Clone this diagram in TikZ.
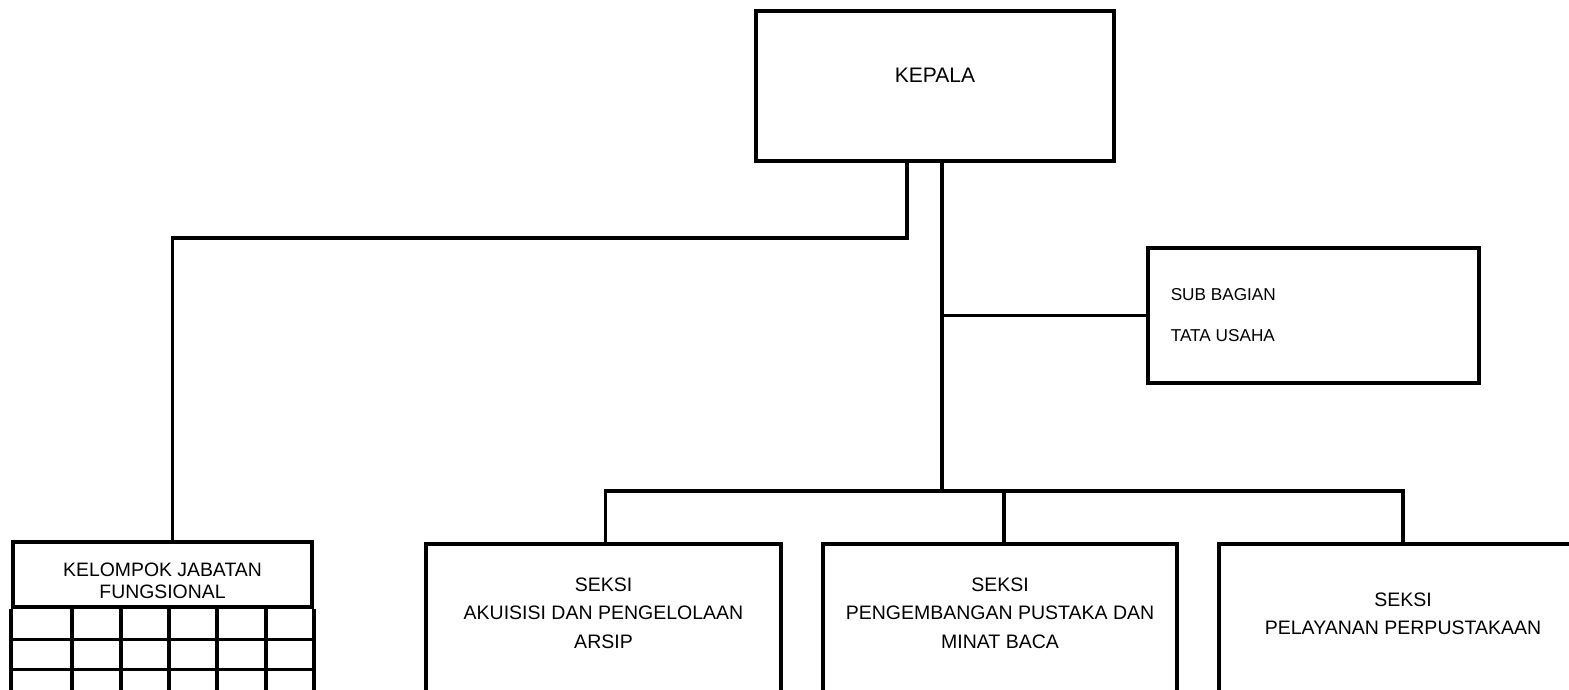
\documentclass[tikz,border=0pt]{standalone}
\usepackage{fontspec}
\setmainfont{Liberation Sans}
\usetikzlibrary{positioning}
\begin{document}
\begin{tikzpicture}[x=1pt, y=-1pt, line width=3.5pt,
    unit box/.style={draw, line width=4pt, inner sep=0pt},
    unit text/.style={inner sep=0pt, align=center, font=\fontsize{19.5}{28.5}\selectfont}]
    \clip (0,0) rectangle (1569,690);

    % top level
    \node[unit box, minimum width=358pt, minimum height=150pt, font=\fontsize{21}{25}\selectfont, text height=15pt, text depth=21pt] at (935,86) (kepala) {KEPALA};
    \node[unit box, minimum width=331pt, minimum height=135pt] at (1313.5,315.5) (tatausaha) {};
    \node[inner sep=0pt, align=left, font=\fontsize{17.2}{41}\selectfont, right=23pt of tatausaha.west] (tatausaha text) {SUB BAGIAN\\TATA USAHA};

    % seksi
    \node[unit box, anchor=north, minimum width=355pt, minimum height=200pt] at (603.5,542) (akuisisi) {};
    \node[unit box, anchor=north, minimum width=354pt, minimum height=200pt] at (1000,542) (pengembangan) {};
    \node[unit box, anchor=north, minimum width=368pt, minimum height=200pt] at (1403,542) (pelayanan) {};
    \node[unit text, below=34pt of akuisisi.north] (akuisisi text) {SEKSI\\AKUISISI DAN PENGELOLAAN\\ARSIP};
    \node[unit text, below=34pt of pengembangan.north] (pengembangan text) {SEKSI\\PENGEMBANGAN PUSTAKA DAN\\MINAT BACA};
    \node[unit text, below=49pt of pelayanan.north] (pelayanan text) {SEKSI\\PELAYANAN PERPUSTAKAAN};

    % jabatan fungsional
    \node[unit box, anchor=north, minimum width=299pt, minimum height=65pt] at (162.5,540) (fungsional) {};
    \node[inner sep=0pt, align=center, font=\fontsize{19.4}{22}\selectfont, below=21pt of fungsional.north] (fungsional text) {KELOMPOK JABATAN\\FUNGSIONAL};
    \draw[line width=4pt] (fungsional.south west) -- ++(0,100) (fungsional.south east) -- ++(0,100);
    \foreach \dx in {61,110,158,206,255}
        \draw[line width=4pt] ([xshift=\dx pt]fungsional.south west) -- ++(0,100);
    \foreach \dy in {30,60}
        \draw[line width=3pt] ([yshift=-\dy pt]fungsional.south west) -- ([yshift=-\dy pt]fungsional.south east);

    % lines
    \coordinate (bus) at (942,491);
    \draw ([xshift=7pt]kepala.south) -- (bus);
    \draw (tatausaha.west) -- (tatausaha.west -| bus);
    \draw ([xshift=-28pt]kepala.south) -- ++(0,75) -| ([xshift=10pt]fungsional.north);
    \draw ([xshift=2pt]akuisisi.north) -- ([xshift=2pt]akuisisi.north |- bus) -- (pelayanan.north |- bus) -- (pelayanan.north);
    \draw ([xshift=4pt]pengembangan.north) -- ([xshift=4pt]pengembangan.north |- bus);
\end{tikzpicture}
\end{document}
